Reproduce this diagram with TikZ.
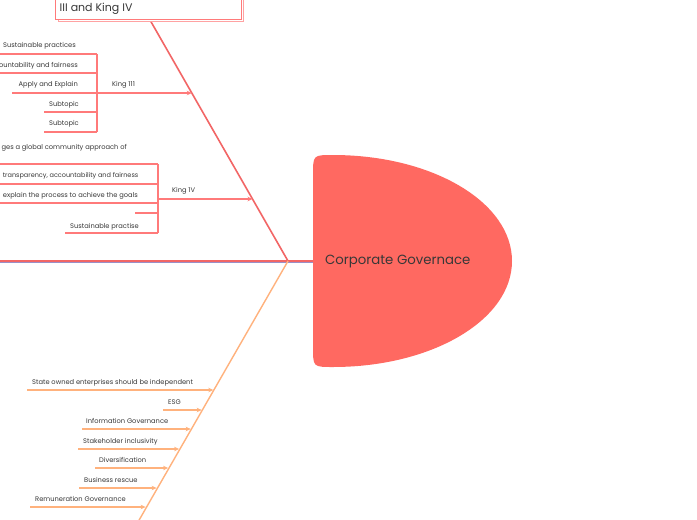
\documentclass[tikz,border=0pt]{standalone}
\usepackage{fontspec}
\setmainfont{Poppins}
\usetikzlibrary{arrows.meta}
\definecolor{headred}{HTML}{FF6961}
\definecolor{bonered}{HTML}{F26666}
\definecolor{subred}{HTML}{FF7A7A}
\definecolor{boneorange}{HTML}{FFB27D}
\definecolor{spinepurple}{HTML}{9A8FC8}
\definecolor{txt}{HTML}{383838}
\tikzset{
  lbl/.style={font=\fontsize{6.7}{8}\selectfont, text=txt, inner sep=0pt},
  redsub/.style={draw=subred, line width=1.2pt},
  redarr/.style={draw=subred, line width=1.3pt, -{Stealth[length=5pt,width=4.5pt]}},
  orarr/.style={draw=boneorange, line width=1.3pt, -{Stealth[length=5pt,width=4.5pt]}},
}
\begin{document}
\begin{tikzpicture}[x=1pt,y=-1pt]
\useasboundingbox[fill=white] (0,0) rectangle (697,520);
% key points
\coordinate (J) at (288,261);
\coordinate (topEnd) at (150,20);
\coordinate (botEnd) at (138,522);
\coordinate (spineL) at (0,261);
\coordinate (headL) at (313,261);
% head
\fill[headred] (333,155)
  .. controls (432,155) and (512,202) .. (512,261)
  .. controls (512,320) and (432,367) .. (333,367)
  .. controls (313,367) .. (313,347)
  -- (313,175)
  .. controls (313,155) .. (333,155) -- cycle;
\node[font=\fontsize{13.3}{15}\selectfont, text=txt, anchor=west, inner sep=0pt] (head) at (325,262) {Corporate Governace};
% spine
\draw[spinepurple, line width=0.8pt] (0,262.6) -- (313,262.6);
\draw[bonered, line width=1.6pt] (spineL) -- (headL);
% bones
\draw[bonered, line width=1.6pt] (J) -- (topEnd);
\draw[boneorange, line width=1.4pt] (J) -- (botEnd);
% top box
\draw[subred!70, line width=0.8pt, fill=white] (58,-10) rectangle (243.5,21.5);
\draw[subred, line width=0.9pt, fill=white] (55,-10) rectangle (241.5,19.5);
\node[font=\fontsize{11}{13}\selectfont, text=txt, anchor=base west, inner sep=0pt] (topbox) at (59.5,11.5) {III and King IV};
% King III
\coordinate (k3b) at (97,93);
\coordinate (k3e) at (191.8,93);
\draw[redarr] (k3b) -- (k3e);
\node[lbl, anchor=base west] (k3) at (112,86.5) {King 111};
\draw[redsub] (97,54) -- (97,132);
\draw[redsub] (0,54) -- (97,54);
\draw[redsub] (0,73) -- (97,73);
\draw[redsub] (12,93) -- (97,93);
\draw[redsub] (44,112) -- (97,112);
\draw[redsub] (44,132) -- (97,132);
\node[lbl, anchor=base east] (a1) at (76,47.5) {Sustainable practices};
\node[lbl, anchor=base east] (a2) at (78,67) {ountability and fairness};
\node[lbl, anchor=base east] (a3) at (78,86.5) {Apply and Explain};
\node[lbl, anchor=base east] (a4) at (79,106) {Subtopic};
\node[lbl, anchor=base east] (a5) at (79,125.5) {Subtopic};
% King IV
\coordinate (k4b) at (158,199);
\coordinate (k4e) at (252.5,199);
\draw[redarr] (k4b) -- (k4e);
\node[lbl, anchor=base west] (k4) at (172,192.5) {King 1V};
\draw[redsub] (158,164) -- (158,233);
\draw[redsub] (0,164) -- (158,164);
\draw[redsub] (0,184) -- (158,184);
\draw[redsub] (0,203) -- (158,203);
\draw[redsub] (135,213) -- (158,213);
\draw[redsub] (65,233) -- (158,233);
\node[lbl, anchor=base east] (c1) at (127,149.5) {ges a global community approach of};
\node[lbl, font=\fontsize{6.5}{8}\selectfont, anchor=base east] (c2) at (138.5,177.5) {transparency, accountability and fairness};
\node[lbl, anchor=base east] (c3) at (138,197.5) {explain the process to achieve the goals};
\node[lbl, anchor=base east] (c4) at (139,228) {Sustainable practise};
% bottom bone
\foreach \n/\xs/\xe/\y in {1/27/213.3/390, 2/163/201.7/410, 3/82/190.7/429, 4/78/179.1/449, 5/95/168.1/468, 6/79/156.6/488, 7/30/145.6/507}{
  \coordinate (s\n) at (\xs,\y);
  \coordinate (e\n) at (\xe,\y);
  \draw[orarr] (s\n) -- (e\n);
}
\node[lbl, anchor=base west] (d1) at (32,384.5) {State owned enterprises should be independent};
\node[lbl, anchor=base west] (d2) at (168,404) {ESG};
\node[lbl, anchor=base west] (d3) at (86,423.5) {Information Governance};
\node[lbl, anchor=base west] (d4) at (83,443) {Stakeholder inclusivity};
\node[lbl, anchor=base west] (d5) at (99,462.5) {Diversification};
\node[lbl, anchor=base west] (d6) at (84,482) {Business rescue};
\node[lbl, anchor=base west] (d7) at (35,501.5) {Remuneration Governance};
\end{tikzpicture}
\end{document}
